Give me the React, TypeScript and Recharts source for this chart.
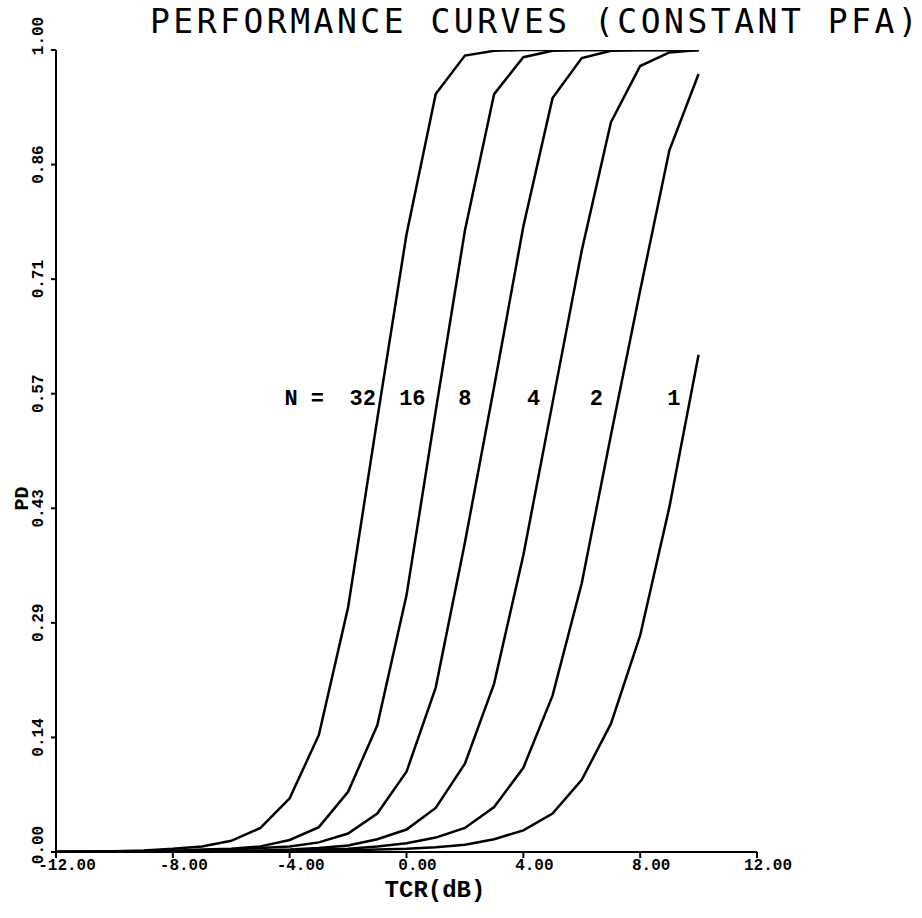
import React from 'react';
import { LineChart, Line, XAxis, YAxis, ReferenceDot } from 'recharts';

// TCR in dB, 1 dB steps
const tcr = [-12, -11, -10, -9, -8, -7, -6, -5, -4, -3, -2, -1, 0, 1, 2, 3, 4, 5, 6, 7, 8, 9, 10];

// probability of detection for N integrated pulses
const pdN32 = [0.0003, 0.0006, 0.001, 0.002, 0.004, 0.007, 0.014, 0.03, 0.067, 0.146, 0.305, 0.54, 0.77, 0.945, 0.993, 0.999, 1, 1, 1, 1, 1, 1, 1];
const pdN16 = [0.0001, 0.0002, 0.0004, 0.0008, 0.0015, 0.003, 0.004, 0.007, 0.015, 0.031, 0.075, 0.158, 0.32, 0.55, 0.775, 0.945, 0.991, 0.999, 1, 1, 1, 1, 1];
const pdN8 = [0, 0.0001, 0.0003, 0.0006, 0.001, 0.002, 0.003, 0.005, 0.007, 0.012, 0.023, 0.048, 0.1, 0.205, 0.386, 0.58, 0.78, 0.94, 0.99, 0.999, 1, 1, 1];
const pdN4 = [0, 0, 0.0001, 0.0002, 0.0004, 0.0008, 0.0015, 0.002, 0.003, 0.005, 0.008, 0.016, 0.028, 0.055, 0.11, 0.21, 0.37, 0.56, 0.75, 0.91, 0.98, 0.997, 1];
const pdN2 = [0, 0, 0, 0.0001, 0.0002, 0.0004, 0.0007, 0.001, 0.002, 0.003, 0.004, 0.007, 0.011, 0.018, 0.03, 0.056, 0.105, 0.195, 0.335, 0.52, 0.7, 0.875, 0.97];
const pdN1 = [0, 0, 0, 0, 0, 0.0001, 0.0002, 0.0004, 0.0007, 0.001, 0.002, 0.003, 0.004, 0.006, 0.009, 0.016, 0.027, 0.048, 0.09, 0.16, 0.27, 0.43, 0.62];

const xTicks = [-12, -8, -4, 0, 4, 8, 12];
const yTicks = [0, 1 / 7, 2 / 7, 3 / 7, 4 / 7, 5 / 7, 6 / 7, 1];
const yTickLabels = ['0.00', '0.14', '0.29', '0.43', '0.57', '0.71', '0.86', '1.00'];

const seriesKeys = ['n32', 'n16', 'n8', 'n4', 'n2', 'n1'];

const data = tcr.map((t, i) => ({
  tcr: t,
  n32: pdN32[i],
  n16: pdN16[i],
  n8: pdN8[i],
  n4: pdN4[i],
  n2: pdN2[i],
  n1: pdN1[i],
}));

const tickFont = { fontFamily: '"Liberation Mono", monospace', fontWeight: 700, fontSize: 16, fill: '#000' };
const curveLabel = { fontFamily: '"Liberation Mono", monospace', fontWeight: 700, fontSize: 22, fill: '#000' };

// rotated PD labels; the end ones are nudged so they clear the corner and the top edge
const YTick = (props: any) => {
  const { x, y, index } = props;
  let shift = 0;
  if (index === 0) shift = -7;
  if (index === yTicks.length - 1) shift = -14;
  return (
    <text
      transform={`translate(${x - 10}, ${y + shift}) rotate(-90)`}
      textAnchor="middle"
      dominantBaseline="central"
      {...tickFont}
    >
      {yTickLabels[index]}
    </text>
  );
};

const XTick = (props: any) => {
  const { x, y, payload } = props;
  return (
    <text x={x + 11} y={y} dy="0.75em" textAnchor="middle" {...tickFont}>
      {payload.value.toFixed(2)}
    </text>
  );
};

const label = (value: string) => ({ value, position: 'center' as const, ...curveLabel });

const App: React.FC = () => {
  return (
    <div style={{ position: 'absolute', left: 0, top: 0, width: 922, height: 918, background: '#fff' }}>
      <div
        style={{
          position: 'absolute',
          left: 150,
          top: 2,
          fontFamily: '"DejaVu Sans Mono", monospace',
          fontSize: 33,
          letterSpacing: 3.5,
          color: '#000',
          whiteSpace: 'nowrap',
        }}
      >
        PERFORMANCE CURVES (CONSTANT PFA)
      </div>
      <div
        style={{
          position: 'absolute',
          left: 10,
          top: 487,
          fontFamily: '"Liberation Mono", monospace',
          fontWeight: 700,
          fontSize: 20,
          transform: 'rotate(-90deg)',
          transformOrigin: 'center',
        }}
      >
        PD
      </div>
      <div
        style={{
          position: 'absolute',
          left: 0,
          width: 870,
          top: 880,
          lineHeight: '22px',
          textAlign: 'center',
          fontFamily: '"Liberation Mono", monospace',
          fontWeight: 700,
          fontSize: 24,
        }}
      >
        TCR(dB)
      </div>
      <LineChart width={922} height={918} data={data} margin={{ top: 50, right: 165, bottom: 0, left: 0 }}>
        <XAxis
          dataKey="tcr"
          type="number"
          domain={[-12, 12]}
          ticks={xTicks}
          height={66}
          tick={<XTick />}
          tickSize={6}
          tickMargin={0}
          axisLine={{ stroke: '#000', strokeWidth: 2 }}
          tickLine={{ stroke: '#000', strokeWidth: 2 }}
          allowDataOverflow
        />
        <YAxis
          type="number"
          domain={[0, 1]}
          ticks={yTicks}
          width={56}
          tick={<YTick />}
          tickSize={5}
          axisLine={{ stroke: '#000', strokeWidth: 2 }}
          tickLine={{ stroke: '#000', strokeWidth: 2 }}
          allowDataOverflow
        />
        {seriesKeys.map((k) => (
          <Line
            key={k}
            type="linear"
            dataKey={k}
            stroke="#000"
            strokeWidth={2.5}
            dot={false}
            isAnimationActive={false}
          />
        ))}
        <ReferenceDot x={-3.5} y={0.567} r={0} fill="none" stroke="none" label={label('N =')} />
        <ReferenceDot x={-1.5} y={0.567} r={0} fill="none" stroke="none" label={label('32')} />
        <ReferenceDot x={0.2} y={0.567} r={0} fill="none" stroke="none" label={label('16')} />
        <ReferenceDot x={2.0} y={0.567} r={0} fill="none" stroke="none" label={label('8')} />
        <ReferenceDot x={4.35} y={0.567} r={0} fill="none" stroke="none" label={label('4')} />
        <ReferenceDot x={6.5} y={0.567} r={0} fill="none" stroke="none" label={label('2')} />
        <ReferenceDot x={9.15} y={0.567} r={0} fill="none" stroke="none" label={label('1')} />
      </LineChart>
    </div>
  );
};

export default App;
